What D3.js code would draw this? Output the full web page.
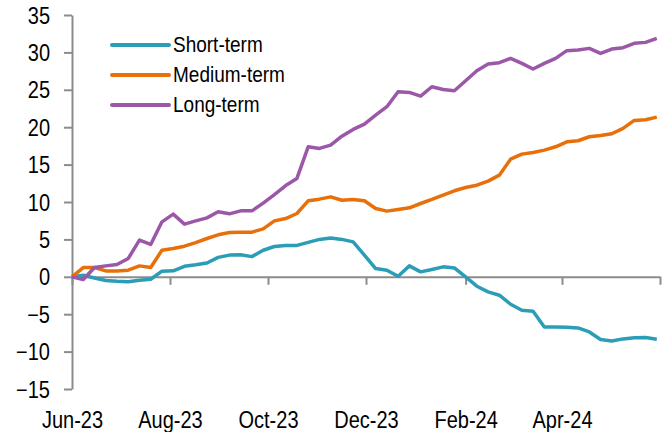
<!DOCTYPE html>
<html>
<head>
<meta charset="utf-8">
<script src="https://cdn.jsdelivr.net/npm/d3@7"></script>
<style>
    body { margin: 0; background: #fff; }
    svg text { font-family: "Liberation Sans", Arial, sans-serif; fill: #000; }
</style>
</head>
<body>
<svg></svg>
<script>
var width = 668;
var height = 432;

var startDate = "2023-06-01";
var seriesNames = ["Short-term", "Medium-term", "Long-term"];
var seriesColors = ["#2c9db6", "#e8700a", "#9b57a8"];

var shortTerm = [0, 0.2, -0.15, -0.5, -0.6, -0.65, -0.45, -0.33, 0.75, 0.8, 1.4, 1.6, 1.85, 2.6, 2.9, 2.95, 2.7, 3.55,
    4.05, 4.2, 4.2, 4.6, 5.0, 5.2, 5.0, 4.67, 2.9, 1.1, 0.88, 0.08, 1.46, 0.66, 0.97, 1.33, 1.19, -0.02, -1.26, -2.02,
    -2.46, -3.67, -4.47, -4.6, -6.7, -6.7, -6.74, -6.83, -7.37, -8.39, -8.57, -8.3, -8.16, -8.12, -8.34];
var mediumTerm = [0, 1.24, 1.24, 0.79, 0.79, 0.88, 1.46, 1.24, 3.56, 3.78, 4.09, 4.58, 5.12, 5.61, 5.92, 5.97, 5.97, 6.41,
    7.48, 7.79, 8.46, 10.16, 10.38, 10.69, 10.24, 10.34, 10.16, 9.13, 8.78, 9.0, 9.22, 9.8, 10.34, 10.92, 11.5, 11.94,
    12.25, 12.79, 13.59, 15.73, 16.4, 16.62, 16.94, 17.38, 18.05, 18.19, 18.72, 18.9, 19.13, 19.84, 20.91, 21.0, 21.35];
var longTerm = [0, -0.36, 1.24, 1.46, 1.64, 2.45, 4.9, 4.32, 7.35, 8.38, 7.04, 7.48, 7.88, 8.69, 8.42, 8.82, 8.82, 9.85,
    11.0, 12.2, 13.15, 17.38, 17.16, 17.6, 18.8, 19.7, 20.42, 21.62, 22.74, 24.74, 24.65, 24.16, 25.41, 25.05, 24.88,
    26.21, 27.55, 28.45, 28.63, 29.2, 28.54, 27.78, 28.54, 29.2, 30.23, 30.32, 30.54, 29.87, 30.45, 30.63, 31.21, 31.34, 31.88];

var xTicks = ["2023-06-01", "2023-08-01", "2023-10-01", "2023-12-01", "2024-02-01", "2024-04-01", "2024-06-01"];
var yTicks = [-15, -10, -5, 0, 5, 10, 15, 20, 25, 30, 35];

var parse = d3.timeParse("%Y-%m-%d");
var fmt = d3.timeFormat("%b-%y");
var start = parse(startDate);
var dates = shortTerm.map(function (d, i) { return d3.timeDay.offset(start, 7 * i); });
var tickDates = xTicks.map(parse);

var x = d3.scaleTime().domain([tickDates[0], tickDates[tickDates.length - 1]]).range([72, 660]);
var y = d3.scaleLinear().domain([-15, 35]).range([389, 15]);

var svg = d3.select("svg").attr("width", width).attr("height", height);
var axisColor = "#8c8c8c";
var tall = "scale(1,1.15)"; // the source font is narrow and tall

// y axis
var yAxis = svg.append("g")
    .attr("transform", "translate(72,0)")
    .call(d3.axisLeft(y).tickValues(yTicks).tickSize(8).tickPadding(14).tickSizeOuter(0));
yAxis.selectAll("text").style("font-size", "20px").attr("dy", "0.35em").attr("transform", tall);

// x axis line at zero
var xAxis = svg.append("g")
    .attr("transform", "translate(0," + y(0) + ")")
    .call(d3.axisBottom(x).tickValues(tickDates).tickSize(8).tickSizeOuter(0).tickFormat(""));

// labels at the bottom
var xLabels = svg.append("g")
    .attr("transform", "translate(0,409)")
    .call(d3.axisBottom(x).tickValues(tickDates.slice(0, -1)).tickSize(0).tickPadding(0).tickFormat(fmt));
xLabels.select(".domain").remove();
xLabels.selectAll("text").style("font-size", "20px").attr("dy", "0.83em").attr("transform", tall);

svg.selectAll(".domain, .tick line")
    .attr("stroke", axisColor)
    .attr("stroke-width", 2);

var line = d3.line()
    .x(function (d) { return x(d.date); })
    .y(function (d) { return y(d.value); });

var allSeries = [shortTerm, mediumTerm, longTerm].map(function (vals) {
    return vals.map(function (v, i) { return { date: dates[i], value: v }; });
});

svg.selectAll(".series")
    .data(allSeries)
    .enter()
    .append("path")
    .attr("class", "series")
    .attr("d", line)
    .attr("fill", "none")
    .attr("stroke", function (d, i) { return seriesColors[i]; })
    .attr("stroke-width", 3.5)
    .attr("stroke-linejoin", "round");

// legend
var legend = svg.append("g").attr("transform", "translate(112,45)");
var item = legend.selectAll(".item")
    .data(seriesNames)
    .enter()
    .append("g")
    .attr("class", "item")
    .attr("transform", function (d, i) { return "translate(0," + i * 30 + ")"; });
item.append("line")
    .attr("x1", 0).attr("x2", 57)
    .attr("stroke", function (d, i) { return seriesColors[i]; })
    .attr("stroke-width", 4)
    .attr("stroke-linecap", "round");
item.append("text")
    .attr("x", 61)
    .attr("y", 6.5)
    .attr("transform", tall)
    .style("font-size", "19px")
    .text(function (d) { return d; });
</script>
</body>
</html>
